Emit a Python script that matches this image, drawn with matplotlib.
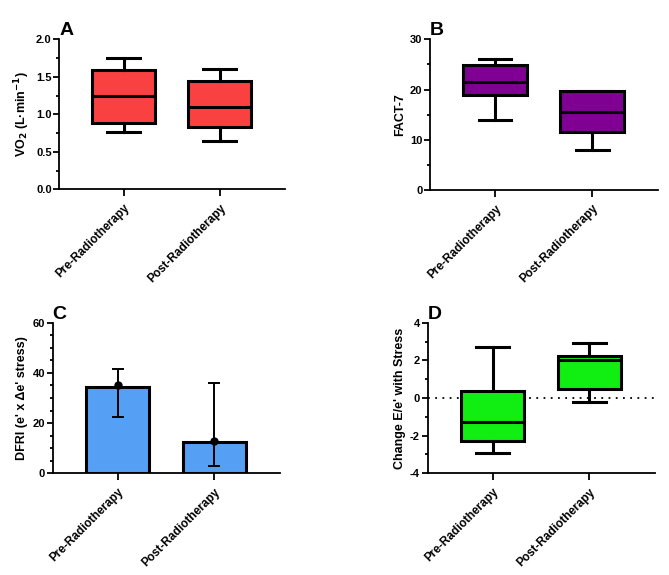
import matplotlib
matplotlib.use("Agg")
import matplotlib.pyplot as plt
from matplotlib.ticker import MultipleLocator

plt.rcParams["font.family"] = ["Liberation Sans", "DejaVu Sans"]
plt.rcParams["font.weight"] = "bold"

GROUPS = ["Pre-Radiotherapy", "Post-Radiotherapy"]

# A: VO2 box stats (whislo, q1, med, q3, whishi)
vo2_whislo = [0.76, 0.65]
vo2_q1     = [0.89, 0.83]
vo2_med    = [1.25, 1.10]
vo2_q3     = [1.59, 1.44]
vo2_whishi = [1.75, 1.60]

# B: FACT-7
fact_whislo = [14.0, 8.0]
fact_q1     = [18.9, 11.6]
fact_med    = [21.5, 15.5]
fact_q3     = [24.9, 19.8]
fact_whishi = [26.0, 19.8]

# C: DFRI bars with error bars
dfri_bar  = [34.5, 12.5]
dfri_dot  = [35.0, 13.0]
dfri_low  = [22.6, 3.0]
dfri_high = [41.5, 35.8]

# D: change E/e'
ee_whislo = [-2.9, -0.2]
ee_q1     = [-2.3, 0.5]
ee_med    = [-1.25, 2.0]
ee_q3     = [0.35, 2.25]
ee_whishi = [2.7, 2.9]

W, H = 669, 575
fig = plt.figure(figsize=(W / 100, H / 100), dpi=100)


def make_ax(left, top, right, bottom):
    return fig.add_axes([left / W, 1 - bottom / H, (right - left) / W, (bottom - top) / H])


def style(ax, ylim, major, minor, fmt, ylabel, letter):
    ax.set_xlim(-0.67, 1.68)
    ax.set_ylim(*ylim)
    for s in ["top", "right"]:
        ax.spines[s].set_visible(False)
    for s in ["left", "bottom"]:
        ax.spines[s].set_linewidth(1.3)
    ax.yaxis.set_major_locator(MultipleLocator(major))
    ax.yaxis.set_minor_locator(MultipleLocator(minor))
    ax.yaxis.set_major_formatter(plt.FuncFormatter(lambda v, _: fmt.format(v)))
    ax.tick_params(axis="y", which="major", length=4, width=1.3, labelsize=8, pad=1.5)
    ax.tick_params(axis="y", which="minor", length=2.5, width=1.3)
    ax.set_xticks([0, 1])
    ax.set_xticklabels(GROUPS, rotation=45, ha="right", rotation_mode="anchor", fontsize=8.5)
    ax.tick_params(axis="x", length=5, width=1.3, pad=4)
    ax.set_ylabel(ylabel, fontsize=9, fontweight="bold", labelpad=3)
    ax.text(0.0, 1.0, letter, transform=ax.transAxes, fontsize=14, fontweight="bold",
            ha="left", va="bottom")


def boxes(ax, lo, q1, med, q3, hi, color):
    stats = [dict(whislo=lo[i], q1=q1[i], med=med[i], q3=q3[i], whishi=hi[i], fliers=[])
             for i in range(len(lo))]
    ax.bxp(stats, positions=[0, 1], widths=0.65, patch_artist=True, showfliers=False,
           capwidths=0.34,
           boxprops=dict(facecolor=color, edgecolor="black", linewidth=2.2),
           medianprops=dict(color="black", linewidth=2.2),
           whiskerprops=dict(color="black", linewidth=2.2),
           capprops=dict(color="black", linewidth=2.2))


# A
axA = make_ax(59.3, 39.3, 285, 189.3)
boxes(axA, vo2_whislo, vo2_q1, vo2_med, vo2_q3, vo2_whishi, "#FA4141")
style(axA, (0, 2.0), 0.5, 0.25, "{:.1f}", r"VO$_2$ (L·min$^{\mathbf{-1}}$)", "A")
axA.text(-0.02, 1.0, "", transform=axA.transAxes)
axA.text(0.0, 1.0, "", transform=axA.transAxes)

# B
axB = make_ax(430, 39.3, 658, 190)
boxes(axB, fact_whislo, fact_q1, fact_med, fact_q3, fact_whishi, "#800094")
style(axB, (0, 30), 10, 5, "{:.0f}", "FACT-7", "B")

# C
axC = make_ax(52.7, 322.7, 280, 473.3)
axC.bar([0, 1], dfri_bar, width=0.65, color="#55A0F5", edgecolor="black", linewidth=2.2, zorder=2)
yerr = [[d - l for d, l in zip(dfri_dot, dfri_low)], [h - d for d, h in zip(dfri_dot, dfri_high)]]
axC.errorbar([0, 1], dfri_dot, yerr=yerr, fmt="o", color="black", markersize=5,
             elinewidth=1.4, capsize=4, capthick=1.4, zorder=3)
style(axC, (0, 60), 20, 5, "{:.0f}", "DFRI (e' x Δe' stress)", "C")

# D
axD = make_ax(427.7, 322.7, 655, 473.3)
axD.axhline(0, color="black", linestyle=(0, (1, 3)), linewidth=1.3, zorder=1)
boxes(axD, ee_whislo, ee_q1, ee_med, ee_q3, ee_whishi, "#11EE11")
style(axD, (-4, 4), 2, 1, "{:.0f}", "Change E/e' with Stress", "D")

fig.savefig("out.png", dpi=100)
